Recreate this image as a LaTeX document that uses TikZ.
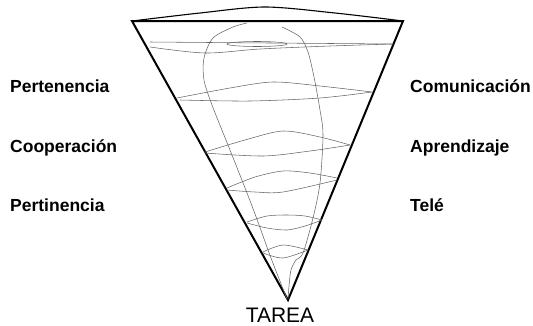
\documentclass[tikz,border=0pt]{standalone}
\usepackage{fontspec}
\setmainfont{Liberation Sans}
\usetikzlibrary{positioning}

\begin{document}
\begin{tikzpicture}[
  x=1pt, y=-1pt,
  rim/.style={line width=2pt, line join=miter},
  lid/.style={line width=1.1pt},
  ring/.style={draw=black!60, line width=0.55pt},
  lbl/.style={font=\bfseries\fontsize{17.5}{20}\selectfont, anchor=base west, inner sep=0pt},
]
\useasboundingbox (0,0) rectangle (533,325);

% cone
\coordinate (tl) at (132,21);
\coordinate (tr) at (403,21);
\coordinate (apex) at (288,300);
\draw[rim] (tl) -- (tr) -- (apex) -- cycle;
\draw[lid] plot[smooth, tension=0.5] coordinates {(tl) (200,13) (265,7) (335,13) (tr)};

% spiral rings
\draw[ring] plot[smooth] coordinates {(150,42) (270,43) (393,44)};
\draw[ring] plot[smooth] coordinates {(150,47) (205,53) (260,49) (330,46) (393,44)};
\draw[ring] (257,44) ellipse[x radius=30, y radius=2.5];
\draw[ring] plot[smooth] coordinates {(177,98) (230,88) (273,82) (320,86) (372,92)};
\draw[ring] plot[smooth] coordinates {(180,100) (250,101) (320,98) (372,92)};
\draw[ring] plot[smooth] coordinates {(205,152) (245,140) (283,131) (320,137) (350,145)};
\draw[ring] plot[smooth] coordinates {(205,153) (263,156) (310,151) (350,145)};
\draw[ring] plot[smooth] coordinates {(227,188) (255,177) (283,171) (310,173) (337,178)};
\draw[ring] plot[smooth] coordinates {(227,190) (255,192) (283,192) (337,180)};
\draw[ring] plot[smooth] coordinates {(247,222) (267,216) (287,215) (305,216) (322,220)};
\draw[ring] plot[smooth] coordinates {(247,223) (267,228) (287,230) (305,226) (322,220)};
\draw[ring] plot[smooth] coordinates {(263,252) (283,245) (308,250)};
\draw[ring] plot[smooth] coordinates {(263,253) (283,258) (308,250)};

% loop
\draw[ring] plot[smooth] coordinates {(247,23) (233,27) (213,38) (204,58) (204,80) (212,105) (230,150) (247,193) (258,222) (271,258) (287,299)};
\draw[ring] plot[smooth] coordinates {(282,27) (300,37) (308,52) (314,77) (320,110) (323,135) (320,183) (313,218) (303,253) (296,260) (291,270) (289,286) (288,299)};

% labels
\node[lbl] (pertenencia) at (10,92) {Pertenencia};
\node[lbl] (cooperacion) at (10,152) {Cooperación};
\node[lbl] (pertinencia) at (10,211) {Pertinencia};
\node[lbl] (comunicacion) at (410,92) {Comunicación};
\node[lbl] (aprendizaje) at (410,152) {Aprendizaje};
\node[lbl] (tele) at (410,211) {Telé};
\node[font=\fontsize{21}{24}\selectfont, anchor=base, inner sep=0pt] (tarea) at (280,322) {TAREA};
\end{tikzpicture}
\end{document}
